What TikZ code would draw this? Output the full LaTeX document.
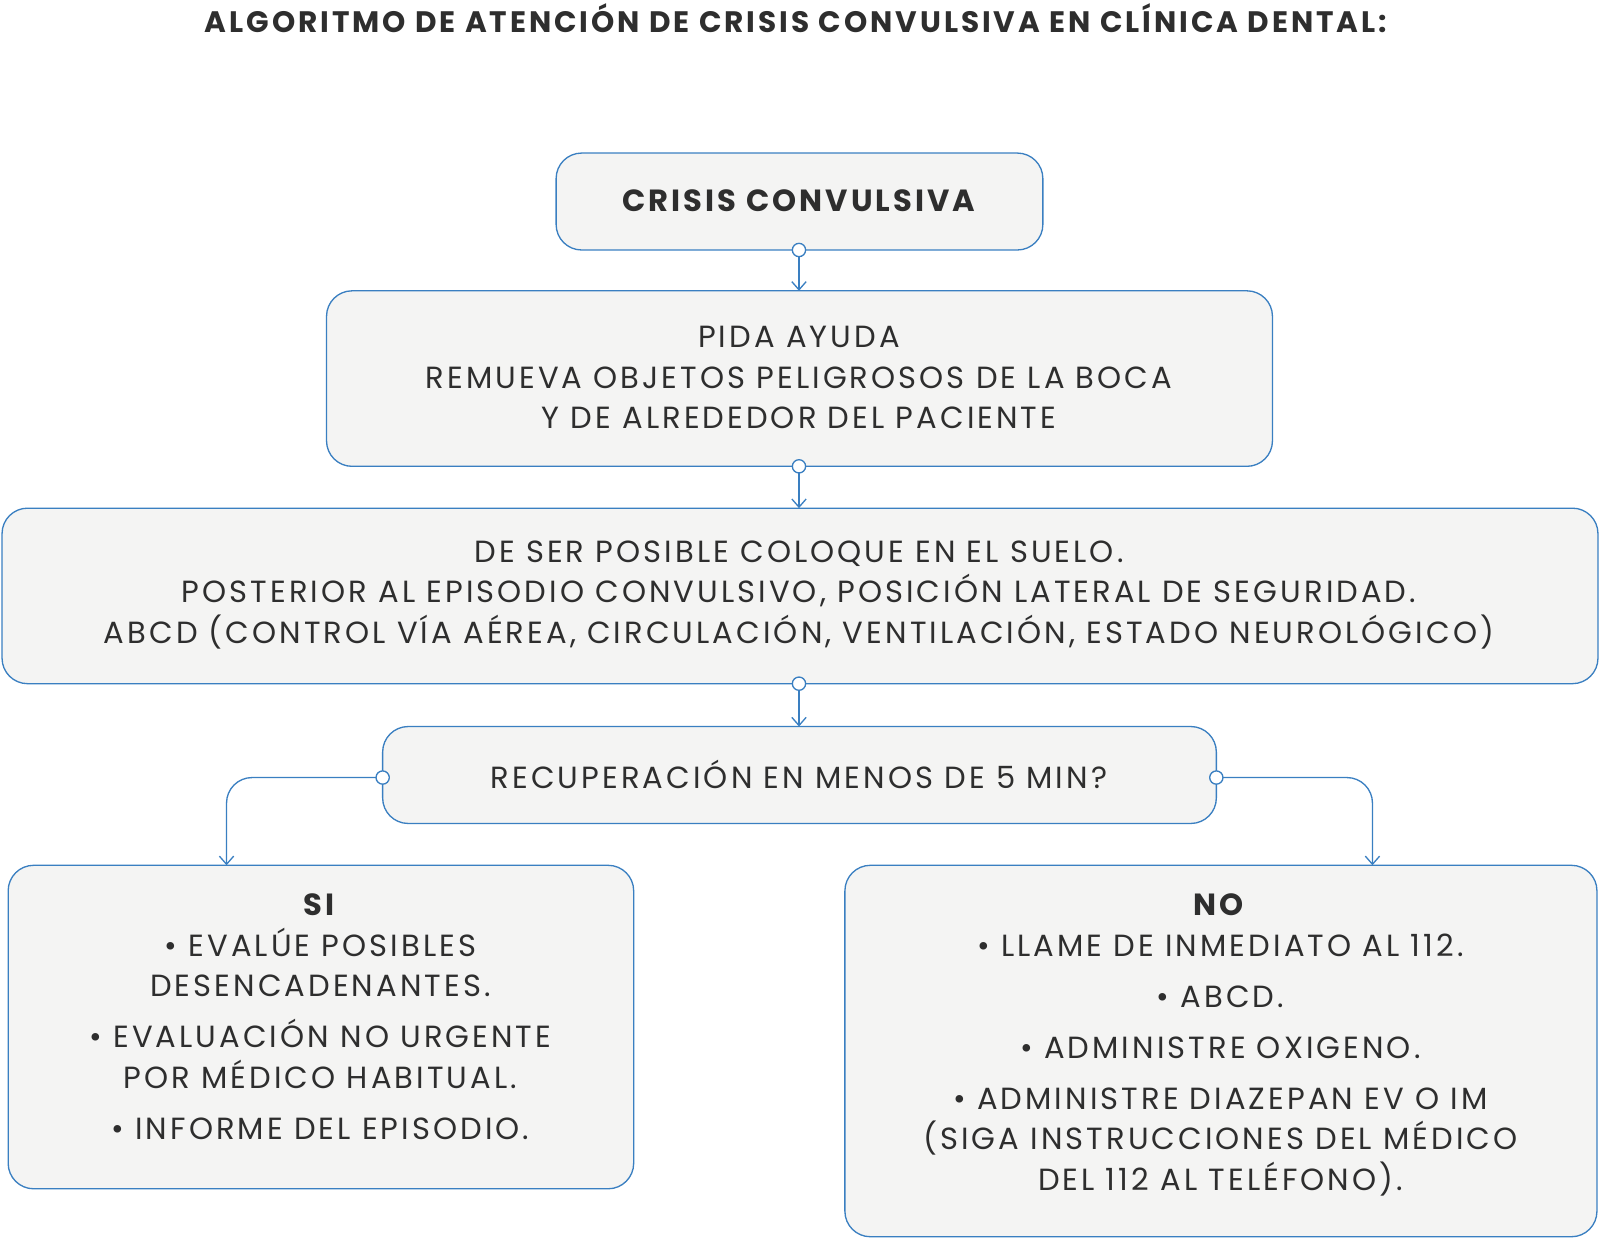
\documentclass[tikz,border=0pt]{standalone}
\usepackage{fontspec}
\setmainfont{Poppins}[LetterSpace=10]
\usetikzlibrary{arrows.meta}
\definecolor{bl}{HTML}{3A7FC1}
\definecolor{bg}{HTML}{F4F4F3}
\definecolor{tx}{HTML}{2E2E2E}
\begin{document}
\begin{tikzpicture}[x=1pt,y=-1pt,
 box/.style={draw=bl,fill=bg,line width=1.3pt,rounded corners=25pt},
 t/.style={align=center,text=tx,font=\fontsize{30}{40}\selectfont},
 con/.style={draw=bl,line width=1.3pt,-{Straight Barb[length=8pt,width=14pt]}},
 dot/.style={circle,draw=bl,fill=white,line width=1.3pt,inner sep=0pt,minimum size=13pt}]
\useasboundingbox (0,0) rectangle (1568,1214);
\node[t,font=\bfseries\fontsize{29}{30}\selectfont] (title) at (780,18) {ALGORITMO DE ATENCIÓN DE CRISIS CONVULSIVA EN CLÍNICA DENTAL:};
\path[box] (545,150) rectangle (1022,245);
\path[box] (320,285) rectangle (1247,457);
\path[box] (2,498) rectangle (1566,670);
\path[box] (375,712) rectangle (1192,807);
\path[box] (8,848) rectangle (621,1165);
\path[box] (828,848) rectangle (1565,1212);
\coordinate (a1) at (783,245); \coordinate (b0) at (783,285);
\coordinate (b1) at (783,457); \coordinate (c0) at (783,498);
\coordinate (c1) at (783,670); \coordinate (d0) at (783,712);
\coordinate (dl) at (375,762); \coordinate (dr) at (1192,762);
\coordinate (s0) at (222,848); \coordinate (n0) at (1345,848);
\node[t,font=\bfseries\fontsize{30}{40}\selectfont] (crisis) at (783,197) {CRISIS CONVULSIVA};
\node[t] (pida) at (783,370) {PIDA AYUDA\\REMUEVA OBJETOS PELIGROSOS DE LA BOCA\\Y DE ALREDEDOR DEL PACIENTE};
\node[t] (ser) at (783,583) {DE SER POSIBLE COLOQUE EN EL SUELO.\\POSTERIOR AL EPISODIO CONVULSIVO, POSICIÓN LATERAL DE SEGURIDAD.\\ABCD (CONTROL VÍA AÉREA, CIRCULACIÓN, VENTILACIÓN, ESTADO NEUROLÓGICO)};
\node[t] (rec) at (783,759) {RECUPERACIÓN EN MENOS DE 5 MIN?};
\node[t,anchor=north] (si) at (314,872) {\textbf{SI}\\• EVALÚE POSIBLES\\DESENCADENANTES.\\[10pt]• EVALUACIÓN NO URGENTE\\POR MÉDICO HABITUAL.\\[10pt]• INFORME DEL EPISODIO.};
\node[t,anchor=north] (no) at (1196,872) {\textbf{NO}\\• LLAME DE INMEDIATO AL 112.\\[10pt]• ABCD.\\[10pt]• ADMINISTRE OXIGENO.\\[10pt]• ADMINISTRE DIAZEPAN EV O IM\\(SIGA INSTRUCCIONES DEL MÉDICO\\DEL 112 AL TELÉFONO).};
\draw[con] (a1) -- (b0);
\draw[con] (b1) -- (c0);
\draw[con] (c1) -- (d0);
\draw[con,rounded corners=25pt] (dl) -- (222,762) -- (s0);
\draw[con,rounded corners=25pt] (dr) -- (1345,762) -- (n0);
\foreach \p in {a1,b1,c1,dl,dr} \node[dot] at (\p) {};
\end{tikzpicture}
\end{document}
